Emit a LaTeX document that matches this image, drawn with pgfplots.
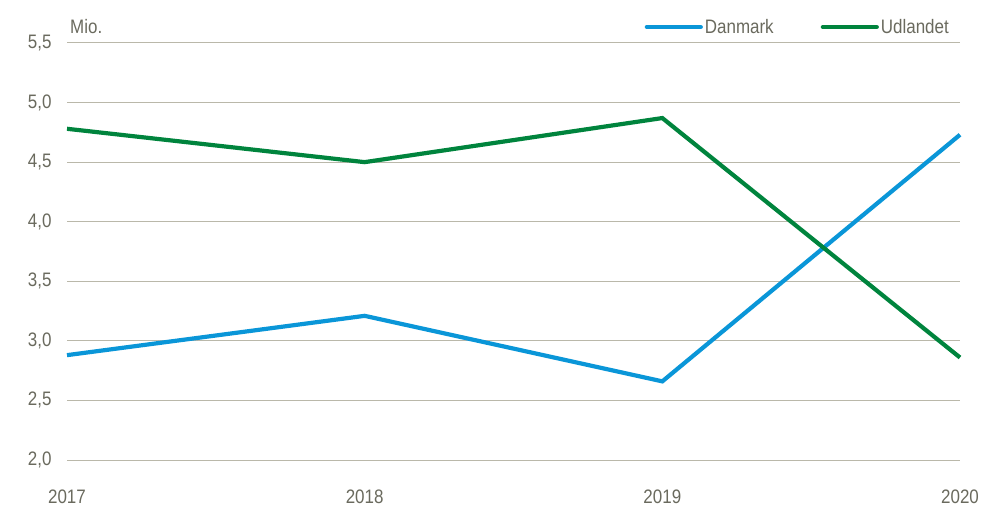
\documentclass[border=0pt]{standalone}
\usepackage{pgfplots}
\pgfplotsset{compat=1.18}
\usepackage{fontspec}
\setmainfont{Liberation Sans}[FakeStretch=0.87]
\definecolor{txt}{HTML}{6A6A5E}
\definecolor{gridc}{HTML}{BAB8AA}
\definecolor{dkblue}{HTML}{0A96D8}
\definecolor{dkgreen}{HTML}{00843D}
\begin{document}
\begin{tikzpicture}
\begin{axis}[
  scale only axis,
  width=893bp, height=417bp,
  xmin=2017, xmax=2020, ymin=2, ymax=5.5,
  xtick={2017,2018,2019,2020},
  ytick={2,2.5,3,3.5,4,4.5,5,5.5},
  axis line style={draw=none},
  major tick length=0pt,
  ymajorgrids,
  grid style={gridc, line width=1bp},
  /pgf/number format/assume math mode=true,
  xticklabel style={/pgf/number format/1000 sep={}, font=\fontsize{19.5bp}{23bp}\selectfont, text=txt, yshift=-26bp},
  yticklabel style={/pgf/number format/.cd, fixed, fixed zerofill, precision=1, use comma, /tikz/.cd, font=\fontsize{19.5bp}{23bp}\selectfont, text=txt, xshift=-12bp},
  xticklabel={\pgfmathprintnumber[1000 sep={}]{\tick}},
  clip=false,
  legend style={draw=none, fill=none, at={(rel axis cs:1,1)}, anchor=south east, yshift=4bp, xshift=-6bp,
    font=\fontsize{19.5bp}{23bp}\selectfont, text=txt, legend columns=2,
    /tikz/every even column/.append style={column sep=45bp}},
  legend image code/.code={\draw[#1, line cap=round] (0bp,0bp) -- (54bp,0bp);},
]
\addplot[dkblue, line width=4.2bp] coordinates {(2017,2.88) (2018,3.21) (2019,2.66) (2020,4.73)};
\addlegendentry{Danmark}
\addplot[dkgreen, line width=4.2bp] coordinates {(2017,4.78) (2018,4.50) (2019,4.87) (2020,2.86)};
\addlegendentry{Udlandet}
\node[anchor=south west, text=txt, font=\fontsize{19.5bp}{23bp}\selectfont, inner sep=0pt] at ([xshift=3bp,yshift=9bp]rel axis cs:0,1) {Mio.};
\end{axis}
\path (current axis.south west) ++(-67bp,-53bp) coordinate (bl);
\path (current axis.north east) ++(33bp,43bp) coordinate (tr);
\path[use as bounding box] (bl) rectangle (tr);
\end{tikzpicture}
\end{document}
